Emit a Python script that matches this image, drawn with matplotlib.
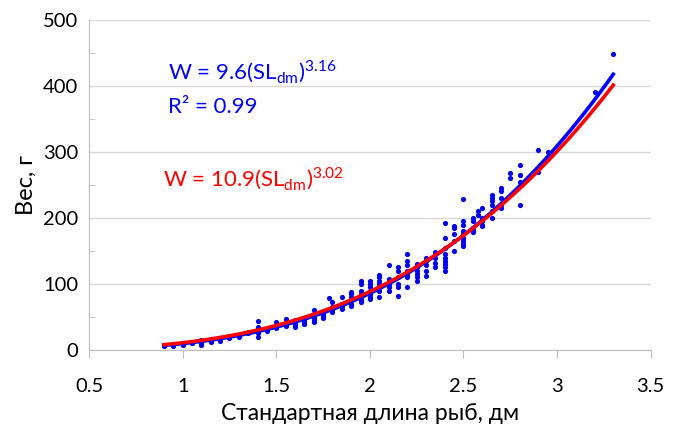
import numpy as np
import matplotlib
matplotlib.use("Agg")
import matplotlib.pyplot as plt
from matplotlib.ticker import MultipleLocator

plt.rcParams['font.family'] = ['Lato', 'DejaVu Sans']
plt.rcParams['mathtext.fontset'] = 'custom'
plt.rcParams['mathtext.rm'] = 'Lato'

# measured fish: standard length (dm) and weight (g), one column per length
length_cols = [0.90, 0.95, 1.00, 1.05, 1.10, 1.15, 1.20, 1.25, 1.30, 1.35,
               1.40, 1.45, 1.50, 1.55, 1.60, 1.65, 1.70, 1.75, 1.78, 1.80,
               1.85, 1.90, 1.95, 2.00, 2.05, 2.10, 2.15, 2.20, 2.25, 2.30,
               2.35, 2.40, 2.45, 2.50, 2.55, 2.58, 2.60, 2.65, 2.70, 2.75,
               2.80, 2.90, 2.95, 3.20, 3.30]
weight_cols = [
    [7, 6], [8, 6], [9, 10, 8], [11, 10], [13, 10, 8, 15], [14, 12, 16],
    [16, 14, 18], [18, 20], [22, 20], [25, 27],
    [44, 35, 30, 25, 20], [28, 32], [43, 38, 35, 33], [47, 40, 36],
    [45, 40, 38, 35], [47, 44, 40, 42], [60, 55, 50, 45, 43, 48],
    [58, 52, 50, 48, 55], [78], [72, 65, 60, 57],
    [80, 70, 66, 62], [88, 85, 80, 75, 70, 66], [105, 100, 90, 85, 80, 76, 72],
    [105, 100, 95, 90, 85, 80, 77], [113, 110, 105, 100, 95, 90, 80],
    [128, 108, 100, 95, 90], [125, 120, 110, 100, 95, 82],
    [145, 135, 128, 120, 115, 110, 95], [130, 125, 120, 115, 110, 105],
    [140, 135, 128, 120, 112],
    [148, 140, 132, 125], [192, 170, 155, 145, 140, 135, 130, 125, 120],
    [188, 185, 175, 165, 150], [228, 195, 190, 180, 175, 170, 165, 160, 158],
    [200, 195, 185, 180, 178], [210, 205], [215, 200, 195, 190, 188],
    [235, 230, 225, 220, 210, 200], [245, 240, 230, 220, 215], [268, 260],
    [280, 265, 255, 220], [303, 270], [300], [390], [448]]

# fitted power laws W = a * SL^b
fit_blue = (9.6, 3.16)
fit_red = (10.9, 3.02)

xs = np.concatenate([[x] * len(w) for x, w in zip(length_cols, weight_cols)])
ys = np.concatenate(weight_cols)

fig = plt.figure(figsize=(6.75, 4.32), dpi=100)
ax = fig.add_axes([0.132, 0.19, 0.832, 0.764])

ax.scatter(xs, ys, s=14, color='#0000ee', zorder=3, linewidths=0)

sl = np.linspace(min(length_cols), max(length_cols), 200)
ax.plot(sl, fit_blue[0] * sl ** fit_blue[1], color='#0000ff', lw=2.6, zorder=4)
ax.plot(sl, fit_red[0] * sl ** fit_red[1], color='#ff0000', lw=2.6, zorder=5)

ax.set_xlim(0.5, 3.5)
ax.set_ylim(0, 500)
ax.yaxis.set_major_locator(MultipleLocator(100))
ax.yaxis.set_minor_locator(MultipleLocator(50))
ax.set_xticks([0.5, 1, 1.5, 2, 2.5, 3, 3.5])
ax.set_xticklabels(['0.5', '1', '1.5', '2', '2.5', '3', '3.5'])

ax.grid(axis='y', color='#d9d9d9', lw=1)
ax.set_axisbelow(True)
for s in ['top', 'right']:
    ax.spines[s].set_visible(False)
for s in ['left', 'bottom']:
    ax.spines[s].set_color('#bfbfbf')
ax.tick_params(axis='x', which='major', length=6, color='#bfbfbf', labelsize=14.5, pad=14)
ax.tick_params(axis='y', which='major', length=0, labelsize=14.5, pad=8)
ax.tick_params(axis='y', which='minor', direction='in', length=4, color='#bfbfbf')

ax.set_xlabel('Стандартная длина рыб, дм', fontsize=16.5, labelpad=6)
ax.set_ylabel('Вес, г', fontsize=17, labelpad=4)

ax.text(0.14, 0.842, r'W = 9.6(SL$_{\mathregular{dm}}$)$^{\mathregular{3.16}}$',
        transform=ax.transAxes, color='#0000ff', fontsize=16, va='center')
ax.text(0.14, 0.736, 'R² = 0.99',
        transform=ax.transAxes, color='#0000ff', fontsize=16, va='center')
ax.text(0.132, 0.515, r'W = 10.9(SL$_{\mathregular{dm}}$)$^{\mathregular{3.02}}$',
        transform=ax.transAxes, color='#ff0000', fontsize=16, va='center')

fig.savefig('out.png', dpi=100)
